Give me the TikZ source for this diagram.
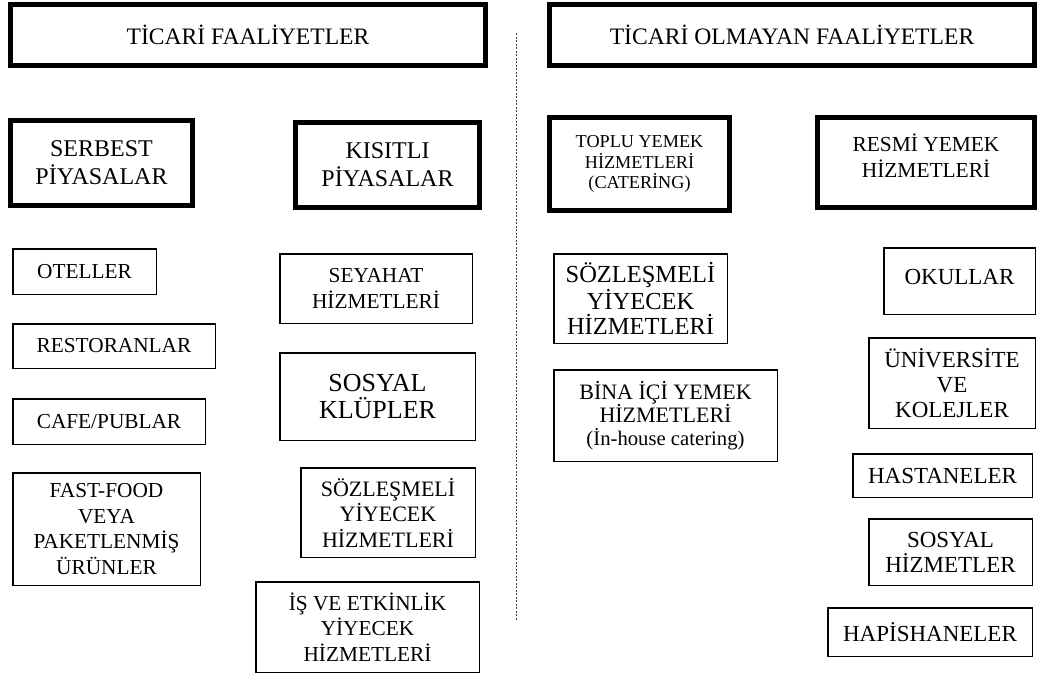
\documentclass[tikz,border=0pt]{standalone}
\usepackage{fontspec}
\setmainfont{Liberation Serif}
\usepackage{tikz}

\newcommand{\fntTop}{\fontsize{23.6}{28}\selectfont}
\newcommand{\fntHead}{\fontsize{24}{28.3}\selectfont}
\newcommand{\fntToplu}{\fontsize{18.2}{20.5}\selectfont}
\newcommand{\fntResmi}{\fontsize{21.4}{26.5}\selectfont}
\newcommand{\fntLeft}{\fontsize{21.3}{25.5}\selectfont}
\newcommand{\fntKlup}{\fontsize{26}{27}\selectfont}
\newcommand{\fntRight}{\fontsize{23}{25}\selectfont}
\newcommand{\fntBina}{\fontsize{22}{23}\selectfont}

\tikzset{
  thickbox/.style={draw, line width=5pt, align=center, inner sep=0pt},
  thinbox/.style={draw, line width=1.5pt, align=center, inner sep=0pt},
  divider/.style={line width=1pt, black!75, dash pattern=on 2pt off 1.5pt}
}

\begin{document}
\begin{tikzpicture}[x=1pt, y=-1pt]
  \useasboundingbox (0, 0) rectangle (1038, 688);

  \node[thickbox, font=\fntTop, minimum width=475pt, minimum height=61pt] (ticari) at (248, 35) {TİCARİ FAALİYETLER};
  \node[thickbox, font=\fntTop, minimum width=485pt, minimum height=61pt] (olmayan) at (792, 35) {TİCARİ OLMAYAN FAALİYETLER};

  \coordinate (divtop) at (516, 33);
  \coordinate (divbot) at (516, 620);
  \draw[divider] (divtop) -- (divbot);

  \node[thickbox, font=\fntHead, minimum width=182pt, minimum height=85pt] (serbest) at (101.5, 163) {SERBEST\\PİYASALAR};
  \node[thickbox, font=\fntHead, minimum width=184pt, minimum height=85pt] (kisitli) at (387.5, 165) {KISITLI\\PİYASALAR};
  \node[thickbox, font=\fntToplu, minimum width=180pt, minimum height=93pt] (toplu) at (639.5, 164) {TOPLU YEMEK\\HİZMETLERİ\\(CATERİNG)};
  \node[thickbox, font=\fntResmi, minimum width=217pt, minimum height=90pt, text depth=14pt] (resmi) at (926, 162.5) {RESMİ YEMEK\\HİZMETLERİ};

  \node[thinbox, font=\fntLeft, minimum width=143.5pt, minimum height=45.5pt] (oteller) at (84.5, 271.5) {OTELLER};
  \node[thinbox, font=\fntLeft, minimum width=202.5pt, minimum height=44.5pt] (restoran) at (114, 346) {RESTORANLAR};
  \node[thinbox, font=\fntLeft, minimum width=192.5pt, minimum height=45.5pt] (cafe) at (109, 421.5) {CAFE/PUBLAR};
  \node[thinbox, font=\fntLeft, minimum width=187.5pt, minimum height=112.5pt] (fastfood) at (106.5, 529) {FAST-FOOD\\VEYA\\PAKETLENMİŞ\\ÜRÜNLER};

  \node[thinbox, font=\fntLeft, minimum width=192.5pt, minimum height=69.5pt] (seyahat) at (376, 288.5) {SEYAHAT\\HİZMETLERİ};
  \node[thinbox, font=\fntKlup, minimum width=195.5pt, minimum height=87.5pt] (klup) at (377.5, 396.5) {SOSYAL\\KLÜPLER};
  \node[thinbox, font={\fontsize{22}{25.5}\selectfont}, minimum width=174.5pt, minimum height=89.5pt] (sozlesme1) at (388, 512.5) {SÖZLEŞMELİ\\YİYECEK\\HİZMETLERİ};
  \node[thinbox, font=\fntLeft, minimum width=223.5pt, minimum height=90.5pt] (etkinlik) at (367.5, 627) {İŞ VE ETKİNLİK\\YİYECEK\\HİZMETLERİ};

  \node[thinbox, font={\fontsize{24.5}{25}\selectfont}, minimum width=173.5pt, minimum height=89.5pt] (sozlesme2) at (640.5, 298.5) {SÖZLEŞMELİ\\YİYECEK\\HİZMETLERİ};
  \node[thinbox, font=\fntBina, minimum width=223.5pt, minimum height=91.5pt] (bina) at (665.5, 415.5) {BİNA İÇİ YEMEK\\HİZMETLERİ\\{\fontsize{20.7}{23}\selectfont(İn-house catering)}};

  \node[thinbox, font=\fntRight, minimum width=151.5pt, minimum height=66.5pt, text depth=8pt] (okullar) at (959.5, 281) {OKULLAR};
  \node[thinbox, font=\fntRight, minimum width=166.5pt, minimum height=90.5pt] (universite) at (952, 383) {ÜNİVERSİTE\\VE\\KOLEJLER};
  \node[thinbox, font=\fntRight, minimum width=179.5pt, minimum height=43.5pt] (hastane) at (942.5, 475.5) {HASTANELER};
  \node[thinbox, font=\fntRight, minimum width=163.5pt, minimum height=66.5pt] (sosyalhiz) at (950.5, 552) {SOSYAL\\HİZMETLER};
  \node[thinbox, font=\fntRight, minimum width=204.5pt, minimum height=48.5pt] (hapishane) at (930, 632) {HAPİSHANELER};
\end{tikzpicture}
\end{document}
